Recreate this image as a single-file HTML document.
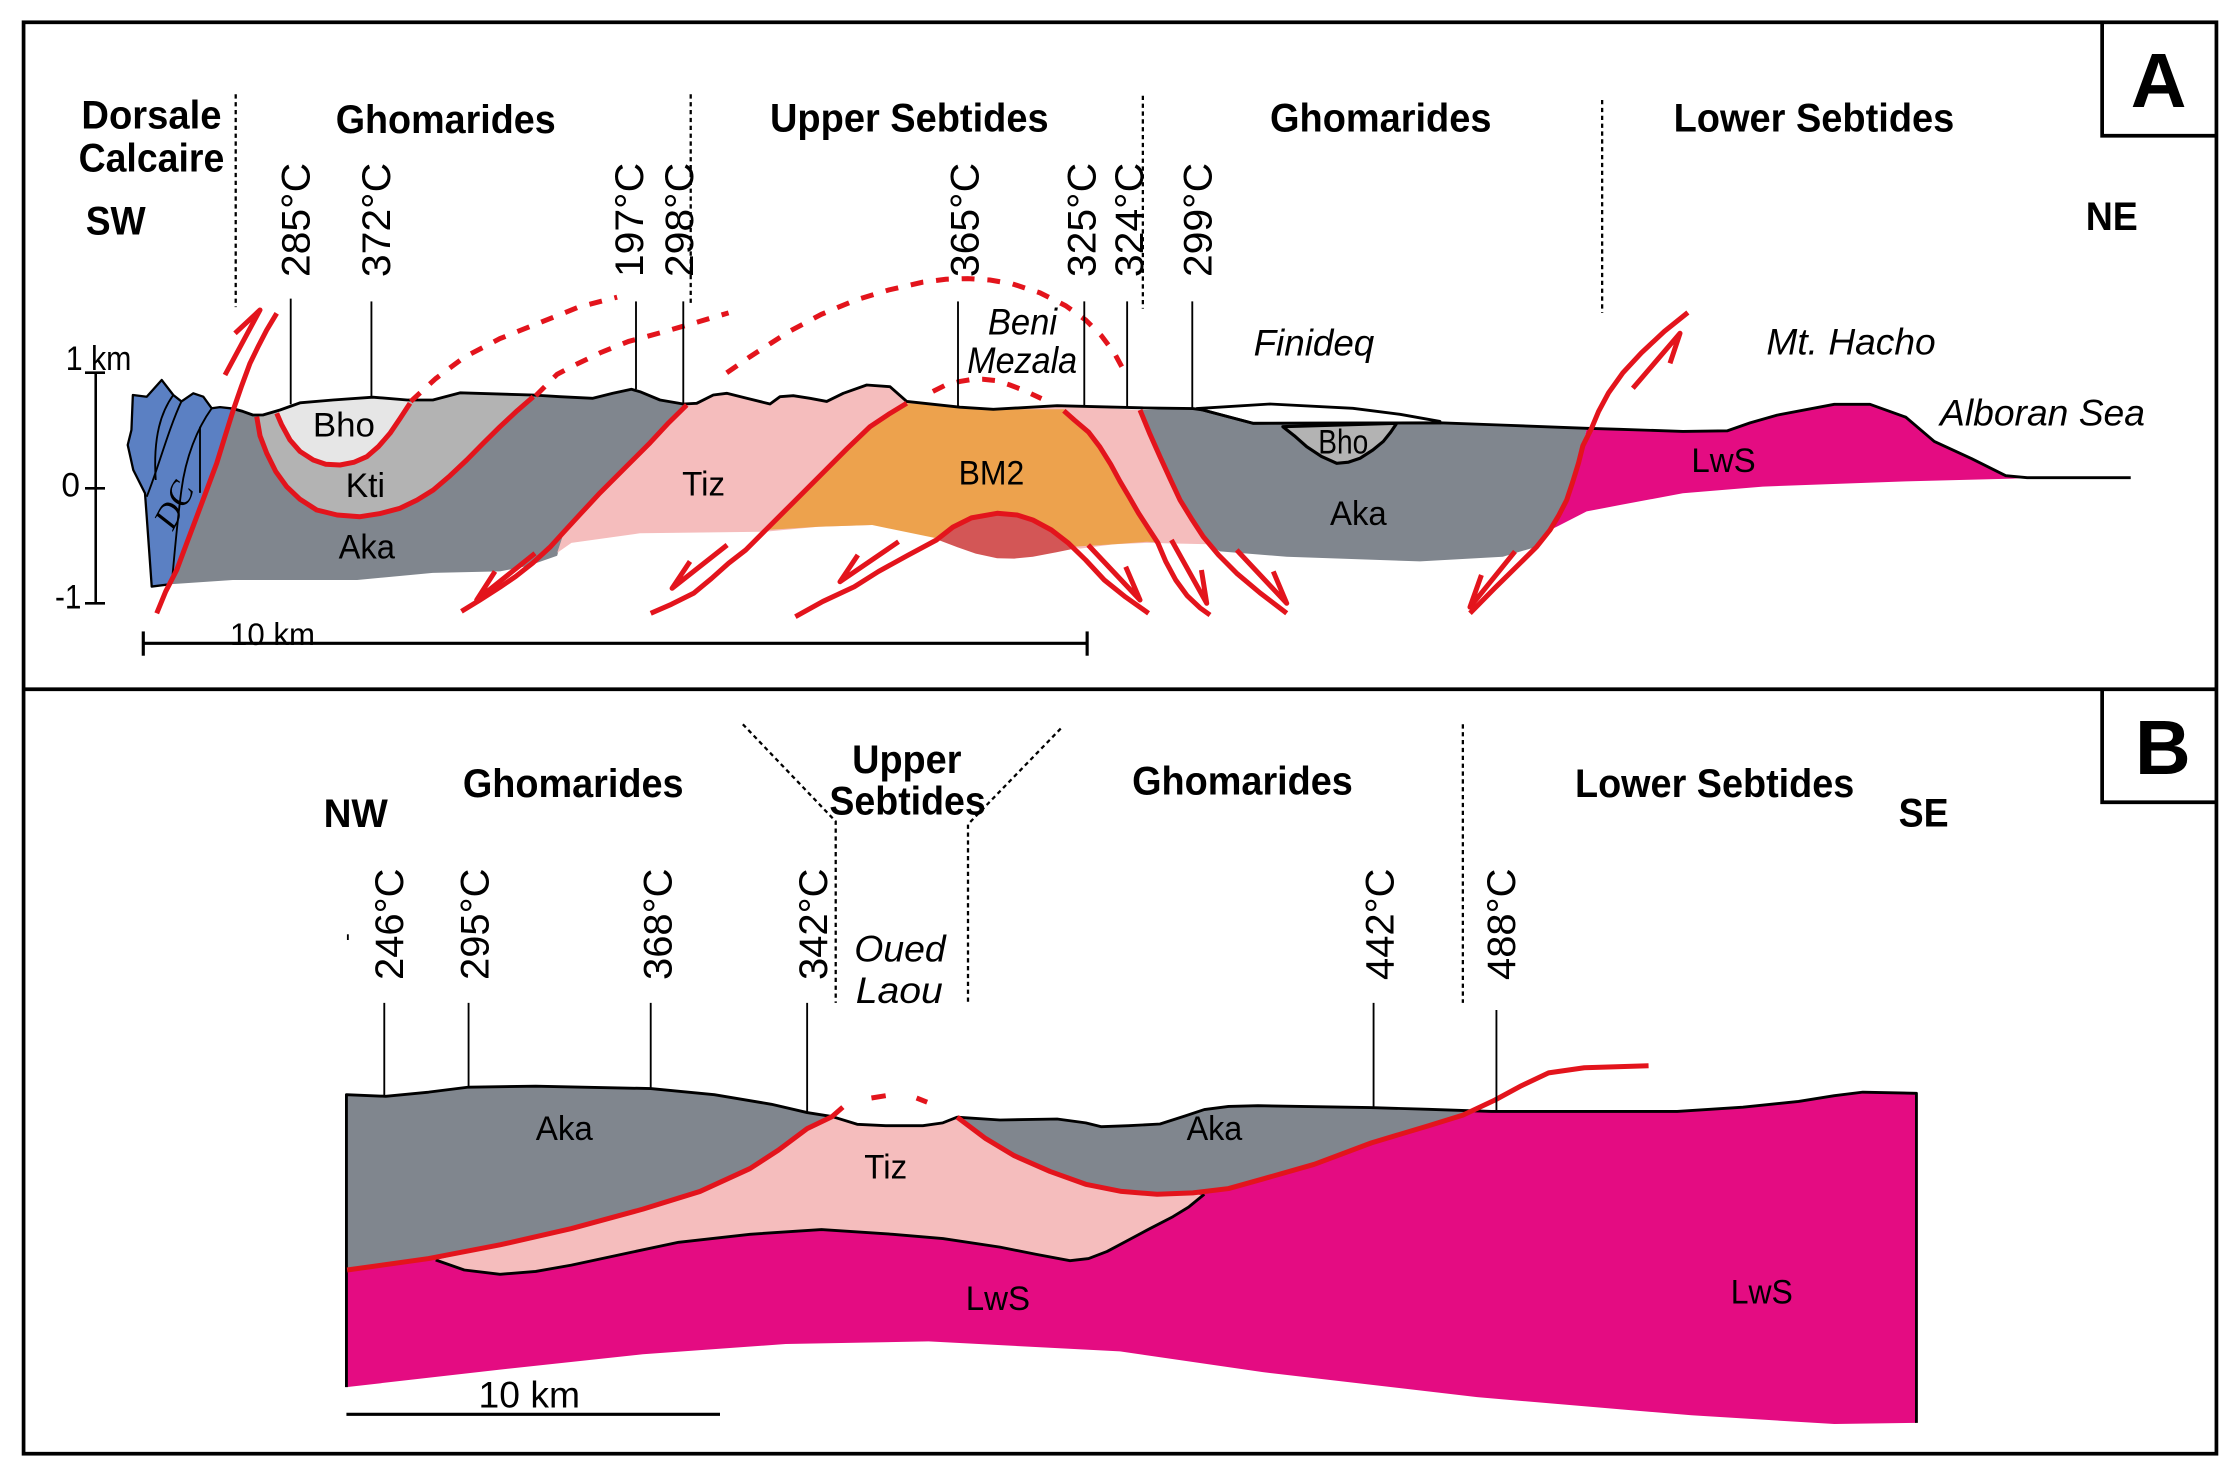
<!DOCTYPE html>
<html><head><meta charset="utf-8">
<style>html,body{margin:0;padding:0;background:#fff}svg{display:block}</style></head>
<body>
<svg width="2240" height="1478" viewBox="0 0 1568 1034.6" preserveAspectRatio="none" xmlns="http://www.w3.org/2000/svg" font-family="'Liberation Sans', Arial, sans-serif">
<rect x="0" y="0" width="1568" height="1035" fill="#fff"/>

<!-- ================= PANEL A fills ================= -->
<path d="M93,276.5 L102.7,277.7 L113.2,266 L121.3,276.5 L127,281 L135.3,275.3 L142.3,277.7 L148.2,285.8 L154,285 L163,286 L157,305 L151.7,324.3 L144.7,343 L137.7,361.7 L130.7,380.3 L123.7,399 L119,409 L106.2,410.6 L102.7,361.7 L101.5,345.3 L93.3,329 L89.4,311.5 L92,301 Z" fill="#5b80c3" stroke="#000" stroke-width="1.6" stroke-linejoin="round"/>
<g fill="none" stroke="#000" stroke-width="1.3">
<path d="M121.3,276.5 C113,288 107,305 109,336"/>
<path d="M127,281 C118,300 110,330 102.7,347.7"/>
<path d="M148.2,285.8 C138,300 130,320 127,343 C124,365 122,390 120.2,408.5"/>
<path d="M140,298.7 L140,345"/>
</g>
<text transform="translate(121,372) rotate(-62)" font-size="24" font-style="italic" font-family="'Liberation Serif', serif">DC</text>

<path d="M163,286 L170,288 L177,290.5 L184,290.5 L196,287 L210,282 L233,280 L261,278 L285,280 L303,280 L322,275 L373,276.5 L392,277.7 L415,278.8 L429,275.3 L442,272.5 L448,274.2 L462,280 L480,283 L468,295 L455,308 L438,326 L420,345 L407,359 L395,372 L390,389 L370,396 L350,400 L303,401 L250,406 L163,406 L119,409 L123.7,399 L130.7,380.3 L137.7,361.7 L144.7,343 L151.7,324.3 L157,305 Z" fill="#80868e"/>
<path d="M179.7,291.7 L182,305 L186.7,317.3 L193,330 L200.7,340.7 L210,349.5 L221.7,357 L236,360.5 L252,361.7 L266,359.5 L280,355.8 L292,350 L303.3,343 L315,333 L326.7,322 L338,310.5 L350,298.7 L362,287.5 L373.3,277.7 L322,275 L303,280 L285,280 L261,278 L233,280 L210,282 L196,287 L184,290.5 Z" fill="#b3b3b3"/>
<path d="M193.7,289.3 L197,297 L203,308 L210,316 L219.3,322 L228,325 L238,325.5 L248,323.5 L256.7,319.7 L265,312.5 L273,303.3 L280,293 L287,282.3 L285,280 L261,278 L233,280 L210,282 L196,287 Z" fill="#e6e6e6"/>

<path d="M480,283 L487.7,282.3 L499.3,276.5 L508.7,275.3 L522.7,278.8 L539,282.8 L546,277.7 L555.3,277 L567,278.8 L578.7,281 L590.3,275.3 L606.7,269.5 L623,270.7 L634.7,281 L672,285 L695.3,286.5 L740,284 L798,287 L805,304 L812,319.7 L819,335 L826,350 L834,363 L842.3,375.7 L846,381 L803,380 L780,381 L756,384 L700,366 L610,367.5 L573,368.7 L535.5,372.2 L448,373.3 L400,380 L390,387 L395,372 L407,359 L420,345 L438,326 L455,308 L468,295 Z" fill="#f5bdbd"/>
<path d="M634.7,282.3 L672,285 L695.3,286.5 L745,286.5 L752,294 L762,302.5 L770,313 L777.5,325 L784,337 L790.5,348 L797,359.3 L804,370 L809,379.5 L803,379.2 L780,381 L750.5,382.7 L748,380.3 L735,371 L723,364 L698,359.3 L677.5,364 L655.5,376.8 L610.5,367.5 L573,368.7 L536,371 L553,354 L574,333 L593,314 L609,298.7 L622,290 Z" fill="#eda24d"/>
<path d="M655.5,377.5 L665,370 L677.5,364 L698,359.3 L712,361 L723,364 L735,371 L748,380.3 L752,384 L740,386.5 L723,389.7 L710,391 L698,390.8 L683,387.5 L670,383 Z" fill="#d35656"/>

<path d="M798,287 L835,286 L842,287 L877,296.3 L1008,296 L1050,297.5 L1110.7,299.8 L1108,312 L1105,324 L1101,337 L1096.7,350 L1091,361 L1085,371 L1075.7,382.7 L1052,389.7 L994,393 L900.7,389.7 L854,386 L846,381 L842.3,375.7 L834,363 L826,350 L819,335 L812,319.7 L805,304 Z" fill="#80868e"/>
<path d="M1110.7,299.8 L1134,300.5 L1178,302 L1209,301.6 L1225,296 L1244,290.6 L1284,283 L1309,283 L1334,292 L1354,309 L1380,321 L1404,333 L1419,334.4 L1409,335 L1334,337 L1234,340.6 L1178,345.3 L1134,353.5 L1110.7,358 L1089.7,368.7 L1085,371 L1091,361 L1096.7,350 L1101,337 L1105,324 L1108,312 Z" fill="#e40c82"/>
<path d="M837.7,286 L889,282.8 L947,285.8 L980,290 L1008,295 L1008,296 L877,296.3 L842,287 Z" fill="#fff" stroke="#000" stroke-width="2" stroke-linejoin="round"/>
<path d="M898,298.7 L906,305 L914.7,312.7 L925,319.5 L935.7,324.3 L944,323.5 L952,320.8 L961,315 L968.3,309 L973.5,302.5 L977.7,296.3 Z" fill="#b3b3b3" stroke="#000" stroke-width="2.2" stroke-linejoin="round"/>

<path d="M163,286 L170,288 L177,290.5 L184,290.5 L196,287 L210,282 L233,280 L261,278 L285,280 L303,280 L322,275 L373,276.5 L392,277.7 L415,278.8 L429,275.3 L442,272.5 L448,274.2 L462,280 L478.3,282.8 L487.7,282.3 L499.3,276.5 L508.7,275.3 L522.7,278.8 L539,282.8 L546,277.7 L555.3,277 L567,278.8 L578.7,281 L590.3,275.3 L606.7,269.5 L623,270.7 L634.7,281 L672,285 L695.3,286.5 L740,284 L799,285.5 L835,286 L842,287 L877,296.3 L1008,296 L1050,297.5 L1110.7,299.8 L1134,300.5 L1178,302 L1209,301.6 L1225,296 L1244,290.6 L1284,283 L1309,283 L1334,292 L1354,309 L1380,321 L1404,333 L1419,334.4 L1491.5,334.4" fill="none" stroke="#000" stroke-width="2" stroke-linejoin="round"/>

<g fill="none" stroke="#e3141c" stroke-width="3.5" stroke-linejoin="round" stroke-linecap="butt">
<path d="M109.7,429.3 L116,414 L123.7,399 L130.7,380.3 L137.7,361.7 L144.7,343 L151.7,324.3 L157.5,305.5 L163.3,287 L169,270.5 L175,254.3 L181,242 L186.7,231 L193.7,219.3"/>
<path d="M157.5,262.5 L182,217 L164.5,233.3"/>
<path d="M179.7,291.7 L182,305 L186.7,317.3 L193,330 L200.7,340.7 L210,349.5 L221.7,357 L236,360.5 L252,361.7 L266,359.5 L280,355.8 L292,350 L303.3,343 L315,333 L326.7,322 L338,310.5 L350,298.7 L362,287.5 L373.3,277.7"/>
<path d="M193.7,289.3 L197,297 L203,308 L210,316 L219.3,322 L228,325 L238,325.5 L248,323.5 L256.7,319.7 L265,312.5 L273,303.3 L280,293 L287,282.3"/>
<path d="M480.7,283.5 L468,296 L455,310 L438,327 L420,345 L407,359 L395,372 L385,383 L373,394 L361,403.5 L350,411 L336,420 L323,428"/>
<path d="M374.5,387.3 L333.7,420 L346.5,400"/>
<path d="M634.7,282.3 L622,290 L609,298.7 L593,314 L574,333 L553,354 L536,371 L522,385 L510,394.3 L498,405 L485.5,415.3 L470,423 L455.5,429.3"/>
<path d="M509,381.5 L470.5,411.8 L483,393"/>
<path d="M556.75,431.7 L576,421 L598,410.7 L615,400 L635,389 L655.5,378 L667,369 L680,362.5 L698,359.3 L712,360.5 L723,364 L736,371 L748,380.3 L760,392 L773,406 L788,418 L804,429.3"/>
<path d="M629,379.2 L588,407.2 L600.5,388.5"/>
<path d="M761.75,381.5 L798,420 L788,396.7"/>
<path d="M744.7,287.5 L752,294 L762,302.5 L770,313 L777.5,325 L784,337 L790.5,348 L797,359.3 L804,370 L810.5,380 L816,393 L823,406 L831,417 L840,425.5 L847,430.5"/>
<path d="M820,378 L844.7,422.3 L841,399"/>
<path d="M798,287 L805,304 L812,319.7 L819,335 L826,350 L834,363 L842.3,375.7 L853,388.5 L865.7,401.3 L882,415 L900.7,429.3"/>
<path d="M865.7,385 L900.7,422.3 L891.3,400"/>
<path d="M1181.5,218.75 L1165,232 L1149,247 L1136,261 L1126,275 L1119,288 L1114,300 L1108,312 L1105,324 L1101,337 L1096.7,350 L1091,361 L1085,371 L1075.7,382.7 L1064,394.3 L1046,412 L1029,429.3"/>
<path d="M1143,271.8 L1176,233.3 L1169,254.3"/>
<path d="M1060.5,386 L1029,425 L1037,402.5"/>
</g>

<g fill="none" stroke="#e3141c" stroke-width="3.5" stroke-dasharray="9,9">
<path d="M287.5,281 L305,265 L325,250 L350,237 L380,225 L405,215 L432,208"/>
<path d="M375,277 L390,262 L400,256.7 L420,247 L440,239 L462,233 L483,227 L510,219"/>
<path d="M508.7,261 L525,249.7 L540,240 L552.5,232 L575,220 L599,210 L622,203 L646,197.5 L662,195.5 L677.5,195 L693,196 L708.8,198.75 L728,205 L746,214 L760,224 L771,235 L780,247 L787,260"/>
<path d="M653,274 L662,269.5 L672,267 L681,265.5 L688,265.5 L697.6,266.5 L707,269.5 L716,273 L729,279"/>
</g>

<g stroke="#000" stroke-width="1.3">
<line x1="203.5" y1="209" x2="203.5" y2="283"/>
<line x1="260" y1="211" x2="260" y2="278"/>
<line x1="445.2" y1="211" x2="445.2" y2="272.5"/>
<line x1="478.3" y1="211" x2="478.3" y2="283"/>
<line x1="670.6" y1="211" x2="670.6" y2="285"/>
<line x1="759" y1="211" x2="759" y2="285"/>
<line x1="789" y1="211" x2="789" y2="285"/>
<line x1="834.6" y1="211" x2="834.6" y2="286"/>
</g>
<g stroke="#000" stroke-width="1.6" stroke-dasharray="3,2.5">
<line x1="165" y1="66" x2="165" y2="215"/>
<line x1="483.5" y1="66" x2="483.5" y2="213"/>
<line x1="800" y1="67" x2="800" y2="216"/>
<line x1="1121.5" y1="70" x2="1121.5" y2="219"/>
</g>

<g font-size="28" fill="#000">
<text transform="translate(216.5,194) rotate(-90)" textLength="80" lengthAdjust="spacingAndGlyphs">285°C</text>
<text transform="translate(273,194) rotate(-90)" textLength="80" lengthAdjust="spacingAndGlyphs">372°C</text>
<text transform="translate(450,194) rotate(-90)" textLength="80" lengthAdjust="spacingAndGlyphs">197°C</text>
<text transform="translate(485,194) rotate(-90)" textLength="80" lengthAdjust="spacingAndGlyphs">298°C</text>
<text transform="translate(685,194) rotate(-90)" textLength="80" lengthAdjust="spacingAndGlyphs">365°C</text>
<text transform="translate(767,194) rotate(-90)" textLength="80" lengthAdjust="spacingAndGlyphs">325°C</text>
<text transform="translate(800,194) rotate(-90)" textLength="80" lengthAdjust="spacingAndGlyphs">324°C</text>
<text transform="translate(848,194) rotate(-90)" textLength="80" lengthAdjust="spacingAndGlyphs">299°C</text>
</g>

<g font-size="28" font-weight="bold" fill="#000">
<text x="57" y="90" textLength="98" lengthAdjust="spacingAndGlyphs">Dorsale</text>
<text x="55" y="120" textLength="102" lengthAdjust="spacingAndGlyphs">Calcaire</text>
<text x="60" y="164" textLength="42" lengthAdjust="spacingAndGlyphs">SW</text>
<text x="235" y="93" textLength="154" lengthAdjust="spacingAndGlyphs">Ghomarides</text>
<text x="539" y="92" textLength="195" lengthAdjust="spacingAndGlyphs">Upper Sebtides</text>
<text x="889" y="92" textLength="155" lengthAdjust="spacingAndGlyphs">Ghomarides</text>
<text x="1171.5" y="92" textLength="196.5" lengthAdjust="spacingAndGlyphs">Lower Sebtides</text>
<text x="1460" y="161" textLength="36.5" lengthAdjust="spacingAndGlyphs">NE</text>
</g>
<text x="1511" y="75" font-size="54" font-weight="bold" text-anchor="middle">A</text>

<g font-size="26" font-style="italic" fill="#000">
<text x="691.5" y="234" textLength="48.5" lengthAdjust="spacingAndGlyphs">Beni</text>
<text x="677" y="261" textLength="77" lengthAdjust="spacingAndGlyphs">Mezala</text>
<text x="877.5" y="249" textLength="84.5" lengthAdjust="spacingAndGlyphs">Finideq</text>
<text x="1236.5" y="248" textLength="118.5" lengthAdjust="spacingAndGlyphs">Mt. Hacho</text>
<text x="1358" y="298" textLength="143.5" lengthAdjust="spacingAndGlyphs">Alboran Sea</text>
</g>

<g font-size="24" fill="#000">
<text x="219" y="305.7" textLength="43.5" lengthAdjust="spacingAndGlyphs">Bho</text>
<text x="242" y="348" textLength="27.5" lengthAdjust="spacingAndGlyphs">Kti</text>
<text x="237" y="391" textLength="39.5" lengthAdjust="spacingAndGlyphs">Aka</text>
<text x="477.5" y="347" textLength="30" lengthAdjust="spacingAndGlyphs">Tiz</text>
<text x="671" y="339" textLength="46" lengthAdjust="spacingAndGlyphs">BM2</text>
<text x="922.8" y="317.3" textLength="35" lengthAdjust="spacingAndGlyphs">Bho</text>
<text x="931" y="367.5" textLength="39.7" lengthAdjust="spacingAndGlyphs">Aka</text>
<text x="1184" y="330.5" textLength="45" lengthAdjust="spacingAndGlyphs">LwS</text>
</g>

<g stroke="#000" stroke-width="1.8">
<line x1="67" y1="260.9" x2="67" y2="422.3"/>
<line x1="59.5" y1="260.9" x2="73.5" y2="260.9"/>
<line x1="59.5" y1="341.8" x2="73.5" y2="341.8"/>
<line x1="59.5" y1="422.3" x2="73.5" y2="422.3"/>
</g>
<g font-size="24" fill="#000">
<text x="46" y="259" textLength="46" lengthAdjust="spacingAndGlyphs">1 km</text>
<text x="43" y="347.7" textLength="13" lengthAdjust="spacingAndGlyphs">0</text>
<text x="38.5" y="426" textLength="18.5" lengthAdjust="spacingAndGlyphs">-1</text>
</g>
<g stroke="#000" stroke-width="2.2">
<line x1="100.3" y1="450.3" x2="761" y2="450.3"/>
<line x1="100.3" y1="442" x2="100.3" y2="459"/>
<line x1="761" y1="442" x2="761" y2="459"/>
</g>
<text x="161" y="451.5" font-size="22" textLength="59.5" lengthAdjust="spacingAndGlyphs">10 km</text>

<!-- ================= PANEL B ================= -->
<path d="M242.5,766.3 L270,767.4 L300,764.5 L328,761 L375,760.3 L455.5,762 L500,766.3 L540,773 L565,778.8 L582.5,781.6 L600,787 L620,788 L646,788 L660,786 L670,782 L700,784 L740,783.3 L760,786 L771,788.7 L790,788 L812,786.8 L830,781 L843,776.7 L860,774.5 L880.6,774 L958.75,775.3 L1000,776.5 L1044,778 L1174,778 L1220,775 L1259,771 L1284,767 L1304,764.5 L1341.5,765.3 L1341.5,996 L1284,996.8 L1184,990.7 L1034,978 L884,960.5 L784,946 L650,939 L550,940.8 L450,948 L350,958.7 L242.5,971 Z" fill="#e40c82"/>
<path d="M242.5,766.3 L270,767.4 L300,764.5 L328,761 L375,760.3 L455.5,762 L500,766.3 L540,773 L565,778.8 L582.5,781.6 L565,790 L545,805 L525,818 L490,834 L450,846.4 L400,860 L350,871.4 L300,881 L245,889 L242.5,889 Z" fill="#80868e"/>
<path d="M670,782 L700,784 L740,783.3 L760,786 L771,788.7 L790,788 L812,786.8 L830,781 L843,776.7 L860,774.5 L880.6,774 L958.75,775.3 L1000,776.5 L1036,777.6 L1024,780.6 L1000,788 L960,800 L920,815 L885,825 L860,832 L835,835 L810,836 L785,834 L760,829 L735,820 L710,809 L690,797 Z" fill="#80868e"/>
<path d="M582.5,781.6 L600,787 L620,788 L646,788 L660,786 L670,782 L690,797 L710,809 L735,820 L760,829 L785,834 L810,836 L835,835 L842,837 L832,845 L821,851.7 L805,860 L790,868 L775,876 L762,881 L749,882.5 L725,878 L700,873 L660,867 L625,864 L575,860.7 L525,864 L475,869.6 L440,877 L400,885.6 L375,890 L350,892 L325,889 L305,882 L350,871.4 L400,860 L450,846.4 L490,834 L525,818 L545,805 L565,790 Z" fill="#f5bdbd"/>
<path d="M305,882 L325,889 L350,892 L375,890 L400,885.6 L440,877 L475,869.6 L525,864 L575,860.7 L625,864 L660,867 L700,873 L725,878 L749,882.5 L762,881 L775,876 L790,868 L805,860 L821,851.7 L832,845 L843,836" fill="none" stroke="#000" stroke-width="2" stroke-linejoin="round"/>
<path d="M242.5,971 L242.5,766.3 L270,767.4 L300,764.5 L328,761 L375,760.3 L455.5,762 L500,766.3 L540,773 L565,778.8 L582.5,781.6 L600,787 L620,788 L646,788 L660,786 L670,782 L700,784 L740,783.3 L760,786 L771,788.7 L790,788 L812,786.8 L830,781 L843,776.7 L860,774.5 L880.6,774 L958.75,775.3 L1000,776.5 L1044,778 L1174,778 L1220,775 L1259,771 L1284,767 L1304,764.5 L1341.5,765.3 L1341.5,996" fill="none" stroke="#000" stroke-width="2" stroke-linejoin="round"/>
<g fill="none" stroke="#e3141c" stroke-width="3.5" stroke-linejoin="round">
<path d="M243,889 L300,881 L350,871.4 L400,860 L450,846.4 L490,834 L525,818 L545,805 L565,790 L582.5,781.6"/>
<path d="M670,782 L690,797 L710,809 L735,820 L760,829 L785,834 L810,836 L835,835 L860,832 L885,825 L920,815 L960,800 L1000,788 L1024,780.6 L1046.5,770 L1065,760 L1084,751 L1109,747.4 L1154,746"/>
<path d="M582,782 L590,775"/>
<path d="M610,768.6 L620,767"/>
<path d="M641.6,768.6 L649,771.5"/>
</g>
<g stroke="#000" stroke-width="1.3">
<line x1="269" y1="702" x2="269" y2="767"/>
<line x1="328" y1="702" x2="328" y2="761"/>
<line x1="455.5" y1="702" x2="455.5" y2="762"/>
<line x1="565" y1="702" x2="565" y2="779"/>
<line x1="961.5" y1="702" x2="961.5" y2="775"/>
<line x1="1047.5" y1="707" x2="1047.5" y2="778"/>
<line x1="243.5" y1="654" x2="243.5" y2="658"/>
</g>
<g fill="none" stroke="#000" stroke-width="1.6" stroke-dasharray="3,2.5">
<path d="M520,507 L585,575 L585,702"/>
<path d="M742.5,510 L677.6,577 L677.6,702"/>
<line x1="1024" y1="507" x2="1024" y2="702"/>
</g>
<g font-size="28" fill="#000">
<text transform="translate(282,686) rotate(-90)" textLength="78" lengthAdjust="spacingAndGlyphs">246°C</text>
<text transform="translate(342,686) rotate(-90)" textLength="78" lengthAdjust="spacingAndGlyphs">295°C</text>
<text transform="translate(470,686) rotate(-90)" textLength="78" lengthAdjust="spacingAndGlyphs">368°C</text>
<text transform="translate(579,686) rotate(-90)" textLength="78" lengthAdjust="spacingAndGlyphs">342°C</text>
<text transform="translate(975.5,686) rotate(-90)" textLength="78" lengthAdjust="spacingAndGlyphs">442°C</text>
<text transform="translate(1060.5,686) rotate(-90)" textLength="78" lengthAdjust="spacingAndGlyphs">488°C</text>
</g>
<g font-size="28" font-weight="bold" fill="#000">
<text x="324" y="558" textLength="154.5" lengthAdjust="spacingAndGlyphs">Ghomarides</text>
<text x="226.5" y="579" textLength="45" lengthAdjust="spacingAndGlyphs">NW</text>
<text x="596.5" y="541" textLength="76.5" lengthAdjust="spacingAndGlyphs">Upper</text>
<text x="580.6" y="570" textLength="109.4" lengthAdjust="spacingAndGlyphs">Sebtides</text>
<text x="792.5" y="556" textLength="154.5" lengthAdjust="spacingAndGlyphs">Ghomarides</text>
<text x="1102.5" y="558" textLength="195.5" lengthAdjust="spacingAndGlyphs">Lower Sebtides</text>
<text x="1329" y="578.5" textLength="35" lengthAdjust="spacingAndGlyphs">SE</text>
</g>
<text x="1514" y="541.8" font-size="54" font-weight="bold" text-anchor="middle">B</text>
<g font-size="26" font-style="italic" fill="#000">
<text x="598" y="673" textLength="64" lengthAdjust="spacingAndGlyphs">Oued</text>
<text x="599" y="702" textLength="61" lengthAdjust="spacingAndGlyphs">Laou</text>
</g>
<g font-size="24" fill="#000">
<text x="375" y="798" textLength="40" lengthAdjust="spacingAndGlyphs">Aka</text>
<text x="605" y="825" textLength="30" lengthAdjust="spacingAndGlyphs">Tiz</text>
<text x="830.6" y="798" textLength="39" lengthAdjust="spacingAndGlyphs">Aka</text>
<text x="676" y="917" textLength="45" lengthAdjust="spacingAndGlyphs">LwS</text>
<text x="1211.5" y="912.4" textLength="43.5" lengthAdjust="spacingAndGlyphs">LwS</text>
</g>
<line x1="242.5" y1="990" x2="504" y2="990" stroke="#000" stroke-width="2.2"/>
<text x="335" y="985.4" font-size="26" textLength="71" lengthAdjust="spacingAndGlyphs">10 km</text>

<g fill="none" stroke="#000" stroke-width="2.6">
<rect x="16.5" y="15.6" width="1535" height="1002"/>
<line x1="16.5" y1="482.5" x2="1551.5" y2="482.5"/>
<path d="M1471.5,15.6 L1471.5,95 L1551.5,95"/>
<path d="M1471.5,482.5 L1471.5,561.6 L1551.5,561.6"/>
</g>
</svg>
</body></html>
